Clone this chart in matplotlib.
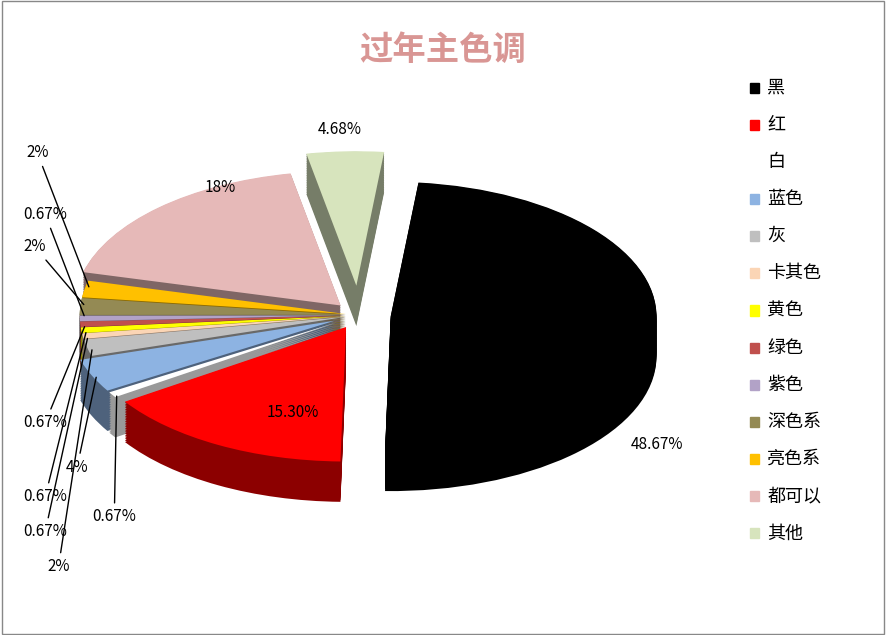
import matplotlib
matplotlib.use("Agg")
import matplotlib.pyplot as plt
import numpy as np
import matplotlib.colors as mc

plt.rcParams['font.family'] = ['Noto Sans CJK SC', 'DejaVu Sans']

categories = ["黑","红","白","蓝色","灰","卡其色","黄色","绿色","紫色","深色系","亮色系","都可以","其他"]
values = [48.67,15.30,0.67,4,2,0.67,0.67,0.67,0.67,2,2,18,4.68]
labels = ["48.67%","15.30%","0.67%","4%","2%","0.67%","0.67%","0.67%","0.67%","2%","2%","18%","4.68%"]
colors = ["#000000","#ff0000","#ffffff","#8db3e2","#bfbfbf","#fbd5b5","#ffff00","#c0504d","#b2a2c7","#948a54","#ffc000","#e6b9b8","#d7e4bd"]
explode = [0.12,0.1,0.1,0.1,0.05,0.05,0.05,0.05,0.05,0.05,0.05,0.1,0.22]

def dark(c, f=0.55):
    r,g,b = mc.to_rgb(c)
    if (r,g,b)==(1,1,1): return (0.6,0.6,0.6)
    return (r*f,g*f,b*f)

fig = plt.figure(figsize=(8.86,6.35), dpi=100)
fig.patches.append(plt.Rectangle((0.002,0.002),0.996,0.996,transform=fig.transFigure,fill=False,ec="#888888",lw=1))
ax = fig.add_axes([0.03,0.08,0.75,0.72])
depth = 0.3
for k in np.linspace(depth,0.005,24):
    ax.pie(values, colors=[dark(c) for c in colors], explode=explode, startangle=84,
           counterclock=False, center=(0,-k), wedgeprops=dict(lw=0))
wedges,_ = ax.pie(values, colors=colors, explode=explode, startangle=84,
                  counterclock=False, wedgeprops=dict(lw=0))
ax.set_aspect('auto')
ax.set_xlim(-1.25,1.25); ax.set_ylim(-2.0,1.4)

# label text positions (data coords)
pos = {0:(1.12,-0.96),1:(-0.25,-0.72),11:(-0.52,0.95),12:(-0.07,1.38),
       10:(-1.21,1.21),8:(-1.18,0.75),9:(-1.22,0.51),7:(-1.18,-0.80),3:(-1.06,-1.13),
       6:(-1.18,-1.35),5:(-1.18,-1.61),4:(-1.13,-1.87),2:(-0.92,-1.50)}
for i,w in enumerate(wedges):
    th = np.deg2rad((w.theta1+w.theta2)/2)
    cx, cy = w.center
    tx, ty = pos[i]
    if values[i] >= 4.5:
        ax.text(tx, ty, labels[i], ha='center', va='center', fontsize=11)
    else:
        px, py = cx+np.cos(th)*0.98, cy+np.sin(th)*0.98
        ax.annotate(labels[i], xy=(px,py), xytext=(tx,ty), fontsize=11, ha='center', va='center',
                    arrowprops=dict(arrowstyle='-', color='black', lw=1), annotation_clip=False)

fig.text(0.5,0.92,"过年主色调",ha='center',va='center',fontsize=24,fontweight='bold',color='#d99694')
for i,(c,n) in enumerate(zip(colors,categories)):
    y = 0.862 - i*0.0585
    fig.patches.append(plt.Rectangle((0.846,y-0.008),0.011,0.016,transform=fig.transFigure,color=c))
    fig.text(0.866,y,n,va='center',fontsize=13)
fig.savefig("out.png", dpi=100)
